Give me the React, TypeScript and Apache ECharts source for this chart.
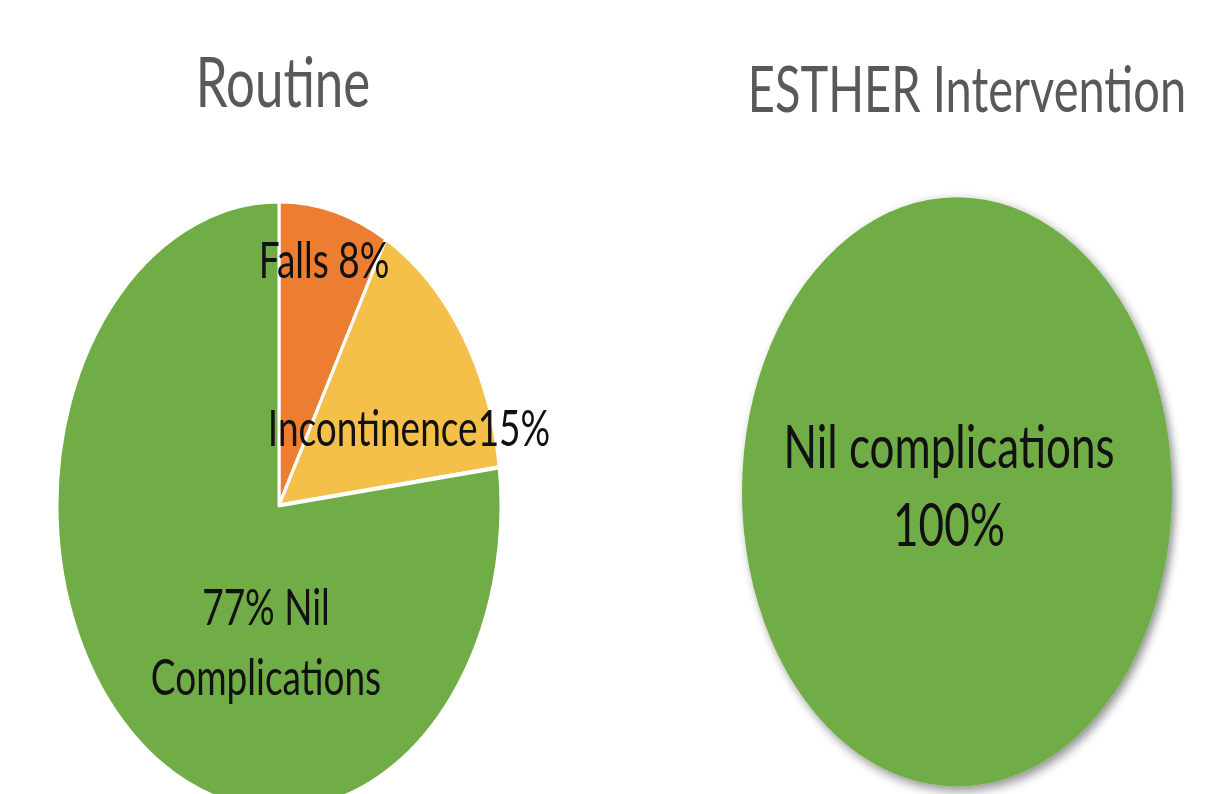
import React, { useEffect, useRef } from "react";
import * as echarts from "echarts";

// Data
const routineCategories = ["Falls", "Incontinence", "Nil Complications"];
const routineValues = [8, 15, 77];
const routineLabels = ["Falls 8%", "Incontinence15%", "77% Nil\nComplications"];
const estherCategories = ["Nil complications"];
const estherValues = [100];
const estherLabels = ["Nil complications\n100%"];
const titles = ["Routine", "ESTHER Intervention"];

const colors = ["#ED7D31", "#F4C04A", "#70AD47"];
const SCALE_Y = 1.37;
const W = 1209;
const H = Math.round(794 / SCALE_Y);

// label anchor positions (unscaled coords)
const routineLabelPos = [
  [324, 188],
  [409, 311],
  [266, 467],
];
const estherLabelPos = [[949, 353]];

const FONT = "Lato, 'Open Sans', sans-serif";

export default function App() {
  const ref = useRef<HTMLDivElement>(null);
  useEffect(() => {
    if (!ref.current) return;
    const chart = echarts.init(ref.current, null, { renderer: "svg" });
    chart.setOption({
      animation: false,
      backgroundColor: "#ffffff",
      title: [
        {
          text: titles[0],
          left: 278,
          top: 28,
          textAlign: "center",
          textStyle: { fontFamily: FONT, fontSize: 51, fontWeight: "normal", color: "#595959" },
        },
        {
          text: titles[1],
          left: 962,
          top: 35,
          textAlign: "center",
          textStyle: { fontFamily: FONT, fontSize: 47, fontWeight: "normal", color: "#595959" },
        },
      ],
      series: [
        {
          type: "pie",
          center: [279, 369],
          radius: [0, 222],
          startAngle: 90,
          clockwise: true,
          silent: true,
          itemStyle: { borderColor: "#ffffff", borderWidth: 3 },
          label: {
            show: true,
            position: "inside",
            fontFamily: FONT,
            fontSize: 37,
            color: "#111111",
            lineHeight: 51,
            align: "center",
            verticalAlign: "middle",
            formatter: (p: any) => routineLabels[p.dataIndex],
          },
          labelLine: { show: false },
          labelLayout: (p: any) => ({
            x: routineLabelPos[p.dataIndex][0],
            y: routineLabelPos[p.dataIndex][1],
            align: "center",
            verticalAlign: "middle",
          }),
          data: routineCategories.map((name, i) => ({
            name,
            value: routineValues[i],
            itemStyle: { color: colors[i] },
          })),
        },
        {
          type: "pie",
          center: [957, 359],
          radius: [0, 215],
          startAngle: 90,
          silent: true,
          itemStyle: {
            shadowBlur: 8,
            shadowOffsetX: 3,
            shadowOffsetY: 3,
            shadowColor: "rgba(0,0,0,0.45)",
          },
          label: {
            show: true,
            position: "inside",
            fontFamily: FONT,
            fontSize: 44,
            color: "#111111",
            lineHeight: 57,
            align: "center",
            verticalAlign: "middle",
            formatter: (p: any) => estherLabels[p.dataIndex],
          },
          labelLine: { show: false },
          labelLayout: (p: any) => ({
            x: estherLabelPos[p.dataIndex][0],
            y: estherLabelPos[p.dataIndex][1],
            align: "center",
            verticalAlign: "middle",
          }),
          data: estherCategories.map((name, i) => ({
            name,
            value: estherValues[i],
            itemStyle: { color: colors[2] },
          })),
        },
      ],
    });
    return () => chart.dispose();
  }, []);
  return (
    <div
      ref={ref}
      style={{
        position: "absolute",
        left: 0,
        top: 0,
        width: W,
        height: H,
        transform: `scaleY(${SCALE_Y})`,
        transformOrigin: "0 0",
        background: "#fff",
      }}
    />
  );
}
